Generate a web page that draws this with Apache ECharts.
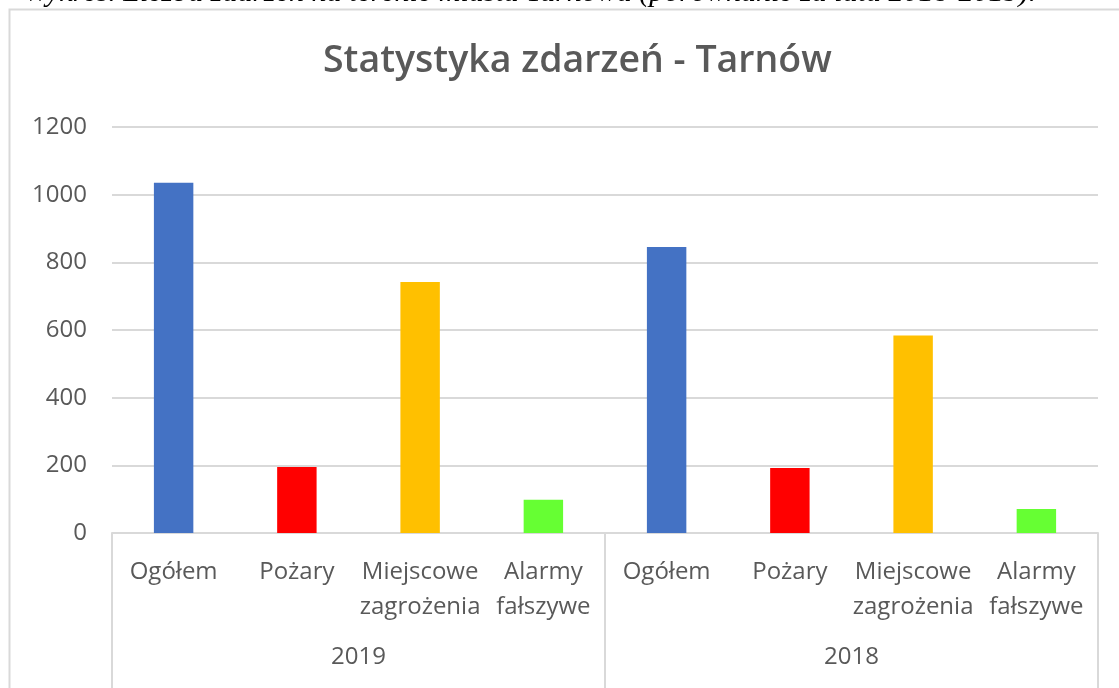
<!DOCTYPE html>
<html>
<head>
<meta charset="utf-8">
<script src="https://cdn.jsdelivr.net/npm/echarts@6/dist/echarts.min.js"></script>
<style>
  html, body { margin: 0; padding: 0; background: #fff; }
  #chart { width: 1119px; height: 688px; }
</style>
</head>
<body>
<div id="chart"></div>
<script>
// dane z wykresu
const categories = ['Ogółem', 'Pożary', 'Miejscowe\nzagrożenia', 'Alarmy\nfałszywe'];
const years = ['2019', '2018'];
const values2019 = [1035, 195, 742, 98];
const values2018 = [845, 192, 584, 71];
const barColors = ['#4472C4', '#FF0000', '#FFC000', '#66FF33'];
const yTicks = { min: 0, max: 1200, interval: 200 };

const xCats = categories.concat(categories);
const allValues = values2019.concat(values2018);
const barData = allValues.map((v, i) => ({
    value: v,
    itemStyle: { color: barColors[i % barColors.length] }
}));

const labelFont = '"Open Sans", "Noto Sans", sans-serif';
const gray = '#595959';
const lineGray = '#d9d9d9';

const chart = echarts.init(document.getElementById('chart'), null, { renderer: 'canvas' });

const option = {
    backgroundColor: '#fff',
    animation: false,
    title: {
        text: 'Statystyka zdarzeń - Tarnów',
        left: 318,
        top: 37,
        textStyle: {
            color: gray,
            fontSize: 37.5,
            fontWeight: 600,
            fontFamily: labelFont
        }
    },
    graphic: [
        {
            type: 'text',
            right: 83,
            top: -22,
            style: {
                text: 'Wykres. Liczba zdarzeń na terenie miasta Tarnowa (porównanie za lata 2018-2019).',
                font: 'italic 30px "Liberation Serif", serif',
                fill: '#000'
            }
        },
        {
            type: 'rect',
            shape: { x: 9.5, y: 9.5, width: 1200, height: 720 },
            style: { fill: 'none', stroke: lineGray, lineWidth: 2 },
            silent: true
        }
    ],
    grid: { left: 112, right: 21, top: 127, bottom: 155 },
    xAxis: [
        {
            type: 'category',
            data: xCats,
            axisLine: { lineStyle: { color: lineGray, width: 2 } },
            axisTick: { show: false },
            axisLabel: {
                interval: 0,
                margin: 22,
                color: gray,
                fontSize: 24,
                lineHeight: 35,
                fontFamily: labelFont
            }
        },
        {
            type: 'category',
            data: years,
            position: 'bottom',
            axisLine: { show: false },
            axisTick: { show: true, length: 160, lineStyle: { color: lineGray, width: 2 } },
            axisLabel: {
                margin: 112,
                color: gray,
                fontSize: 24,
                fontFamily: labelFont
            }
        }
    ],
    yAxis: {
        type: 'value',
        min: yTicks.min,
        max: yTicks.max,
        interval: yTicks.interval,
        axisLine: { show: false },
        axisTick: { show: false },
        axisLabel: {
            margin: 25,
            color: gray,
            fontSize: 24,
            fontFamily: labelFont,
            formatter: v => String(v)
        },
        splitLine: { lineStyle: { color: lineGray, width: 2 } }
    },
    series: [
        {
            type: 'bar',
            xAxisIndex: 0,
            data: barData,
            barWidth: '32%'
        }
    ]
};

chart.setOption(option);
</script>
</body>
</html>
